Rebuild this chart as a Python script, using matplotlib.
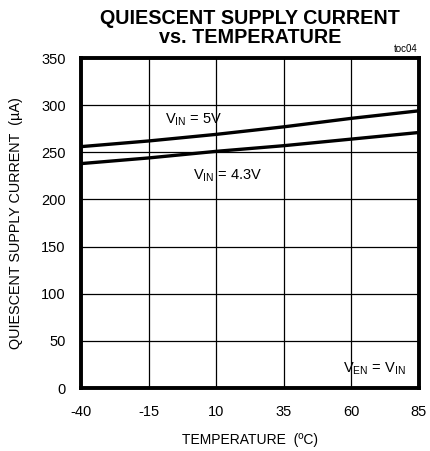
import matplotlib
matplotlib.use("Agg")
import matplotlib.pyplot as plt

plt.rcParams['font.family'] = ['Liberation Sans Narrow', 'Liberation Sans', 'DejaVu Sans']
plt.rcParams['axes.unicode_minus'] = False

temps = [-40, -15, 10, 35, 60, 85]
i_5v = [256, 262, 269, 277, 286, 294]
i_43v = [238, 244, 251, 257, 264, 271]

xticks = [-40, -15, 10, 35, 60, 85]
yticks = [0, 50, 100, 150, 200, 250, 300, 350]

fig = plt.figure(figsize=(4.30, 4.51), dpi=100)
ax = fig.add_axes([81/430, 1 - 388/451, 338/430, 330/451])

ax.plot(temps, i_5v, color='black', lw=2.4)
ax.plot(temps, i_43v, color='black', lw=2.4)

ax.set_xlim(-40, 85)
ax.set_ylim(0, 350)
ax.set_xticks(xticks)
ax.set_yticks(yticks)
ax.grid(True, color='black', lw=0.9)
ax.tick_params(length=0, labelsize=10.5)
ax.tick_params(axis='y', pad=11)
ax.tick_params(axis='x', pad=12)
for s in ax.spines.values():
    s.set_linewidth(2.8)

ax.set_xlabel('TEMPERATURE  (ºC)', fontsize=10, labelpad=10)
ax.set_ylabel('QUIESCENT SUPPLY CURRENT  (µA)', fontsize=10.4, labelpad=13)

ax.text(-8.8, 285, r'V$_{\mathregular{IN}}$ = 5V', fontsize=10.5, va='center')
ax.text(1.5, 225, r'V$_{\mathregular{IN}}$ = 4.3V', fontsize=10.5, va='center')
ax.text(57, 21, r'V$_{\mathregular{EN}}$ = V$_{\mathregular{IN}}$', fontsize=10.5, va='center')

fig.text(250/430, 1 - 28/451, 'QUIESCENT SUPPLY CURRENT\nvs. TEMPERATURE', ha='center',
         va='center', fontsize=14.2, fontweight='bold', family='Liberation Sans', linespacing=0.95)
fig.text(418/430, 1 - 49/451, 'toc04', ha='right', va='center', fontsize=7)

fig.savefig('out.png', dpi=100)
